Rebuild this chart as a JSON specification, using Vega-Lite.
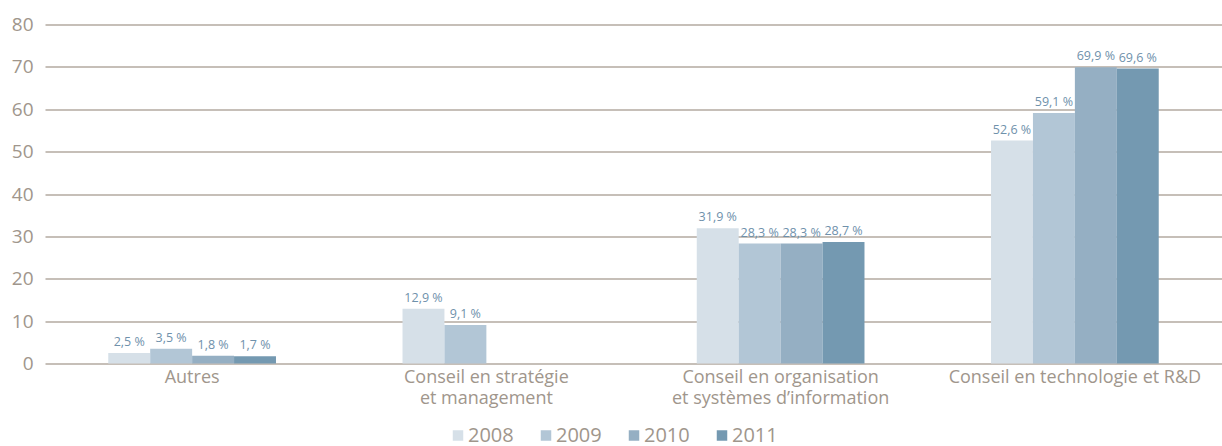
{
  "$schema": "https://vega.github.io/schema/vega-lite/v6.json",
  "autosize": {"type": "none"},
  "width": 1177,
  "height": 339,
  "padding": {"left": 45, "top": 24.5, "right": 0, "bottom": 82.5},
  "background": "white",
  "config": {"view": {"stroke": null}},
  "data": {
    "values": [
      {"cat": "Autres", "year": "2008", "value": 2.5, "label": "2,5 %"},
      {"cat": "Autres", "year": "2009", "value": 3.5, "label": "3,5 %"},
      {"cat": "Autres", "year": "2010", "value": 1.8, "label": "1,8 %"},
      {"cat": "Autres", "year": "2011", "value": 1.7, "label": "1,7 %"},
      {"cat": "Conseil en stratégie|et management", "year": "2008", "value": 12.9, "label": "12,9 %"},
      {"cat": "Conseil en stratégie|et management", "year": "2009", "value": 9.1, "label": "9,1 %"},
      {"cat": "Conseil en organisation|et systèmes d’information", "year": "2008", "value": 31.9, "label": "31,9 %"},
      {"cat": "Conseil en organisation|et systèmes d’information", "year": "2009", "value": 28.3, "label": "28,3 %"},
      {"cat": "Conseil en organisation|et systèmes d’information", "year": "2010", "value": 28.3, "label": "28,3 %"},
      {"cat": "Conseil en organisation|et systèmes d’information", "year": "2011", "value": 28.7, "label": "28,7 %"},
      {"cat": "Conseil en technologie et R&D", "year": "2008", "value": 52.6, "label": "52,6 %"},
      {"cat": "Conseil en technologie et R&D", "year": "2009", "value": 59.1, "label": "59,1 %"},
      {"cat": "Conseil en technologie et R&D", "year": "2010", "value": 69.9, "label": "69,9 %"},
      {"cat": "Conseil en technologie et R&D", "year": "2011", "value": 69.6, "label": "69,6 %"}
    ]
  },
  "encoding": {
    "x": {
      "field": "cat",
      "type": "nominal",
      "sort": null,
      "scale": {"paddingInner": 0.43, "paddingOuter": 0.215},
      "axis": {
        "title": null,
        "labelAngle": 0,
        "labelExpr": "split(datum.label, '|')",
        "labelFont": "Open Sans",
        "labelFontSize": 18,
        "labelColor": "#a0968c",
        "labelLineHeight": 21,
        "labelPadding": 5,
        "labelLimit": 0,
        "labelOverlap": false,
        "labelBound": false,
        "ticks": false,
        "domain": false,
        "grid": false
      }
    },
    "xOffset": {"field": "year", "type": "nominal", "scale": {"paddingInner": 0, "paddingOuter": 0}},
    "y": {
      "field": "value",
      "type": "quantitative",
      "scale": {"domain": [0, 80], "nice": false},
      "axis": {
        "title": null,
        "values": [0, 10, 20, 30, 40, 50, 60, 70, 80],
        "labelFont": "Open Sans",
        "labelFontSize": 19,
        "labelColor": "#a0968c",
        "labelPadding": 12,
        "ticks": false,
        "domain": false,
        "grid": true,
        "gridColor": "#b3aaa1",
        "gridWidth": 1.5,
        "gridOpacity": 1
      }
    }
  },
  "layer": [
    {
      "mark": {"type": "bar"},
      "encoding": {
        "color": {
          "field": "year",
          "type": "nominal",
          "scale": {"domain": ["2008", "2009", "2010", "2011"], "range": ["#d6e0e8", "#b2c6d6", "#95afc3", "#7499b1"]},
          "legend": {
            "title": null,
            "orient": "none",
            "direction": "horizontal",
            "legendX": 403,
            "legendY": 401,
            "symbolType": "square",
            "symbolSize": 110,
            "symbolStrokeWidth": 0,
            "symbolOpacity": 1,
            "labelFont": "Open Sans",
            "labelFontSize": 20,
            "labelColor": "#a0968c",
            "labelOffset": 0,
            "columnPadding": 22
          }
        }
      }
    },
    {
      "mark": {"type": "text", "baseline": "bottom", "dy": -4, "font": "Open Sans", "fontSize": 12.5, "color": "#6f91ab"},
      "encoding": {"text": {"field": "label"}}
    }
  ]
}
